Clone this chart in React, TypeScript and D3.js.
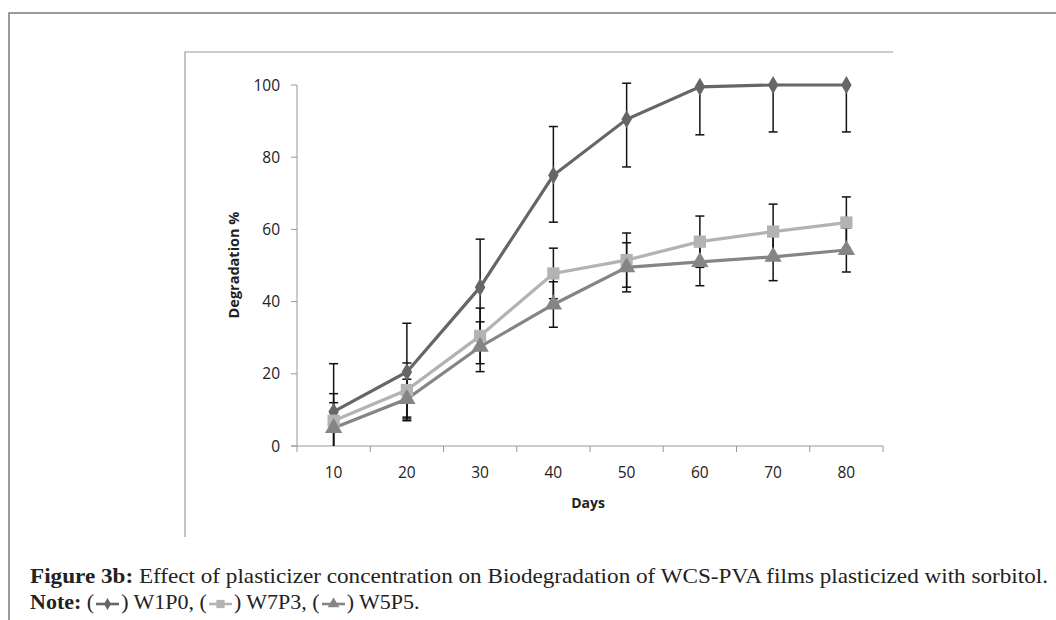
import React from 'react';
import * as d3 from 'd3';

const days = [10, 20, 30, 40, 50, 60, 70, 80];
const yTicks = [0, 20, 40, 60, 80, 100];

const w1p0 = [9.5, 20.5, 44, 75, 90.5, 99.5, 100, 100];
const w1p0Up = [13.3, 13.5, 13.3, 13.5, 10, 13.3, 13, 13];
const w1p0Down = [13.3, 13.5, 13.3, 13, 13.2, 13.3, 13, 13];

const w7p3 = [7, 15.5, 30.5, 47.8, 51.5, 56.6, 59.4, 61.9];
const w7p3Err = [7.5, 7.5, 7.7, 7, 7.5, 7.1, 7.6, 7.1];

const w5p5 = [5, 13, 27.5, 39.2, 49.5, 51, 52.4, 54.3];
const w5p5Err = [7, 5.5, 6.9, 6.3, 6.8, 6.6, 6.6, 6.1];

const series = [
    { name: 'W1P0', values: w1p0, up: w1p0Up, down: w1p0Down, color: '#666666', symbol: d3.symbolDiamond, size: 95 },
    { name: 'W7P3', values: w7p3, up: w7p3Err, down: w7p3Err, color: '#b3b3b3', symbol: d3.symbolSquare, size: 150 },
    { name: 'W5P5', values: w5p5, up: w5p5Err, down: w5p5Err, color: '#858585', symbol: d3.symbolTriangle, size: 130 },
];

const W = 1056;
const H = 620;
const plot = { left: 297, right: 883, top: 85, bottom: 446 };

const x = d3.scaleBand<number>().domain(days).range([plot.left, plot.right]);
const y = d3.scaleLinear().domain([0, 100]).range([plot.bottom, plot.top]);
const cx = (d: number) => (x(d) as number) + x.bandwidth() / 2;

const axisFont = '"Open Sans", "DejaVu Sans", sans-serif';
const serif = '"Liberation Serif", "DejaVu Serif", serif';

// small legend sample used inside the caption
const Glyph = ({ s }: { s: typeof series[number] }) => {
    const sym = d3.symbol().type(s.symbol).size(s.size * 0.45)();
    return (
        <svg width={25} height={12} style={{ verticalAlign: 'middle', margin: '0 1px' }}>
            <line x1={1} x2={24} y1={6} y2={6} stroke={s.color} strokeWidth={2.6} />
            <path d={sym as string} transform="translate(12.5,6)" fill={s.color} />
        </svg>
    );
};

const App = () => {
    const line = d3.line<number>().x((_, i) => cx(days[i])).y(d => y(d));

    return (
        <svg width={W} height={H} style={{ position: 'absolute', left: 0, top: 0, background: '#fff' }}>
            {/* outer frame */}
            <path d={`M9,620 V13 H1056`} fill="none" stroke="#7a7a7a" strokeWidth={1.5} />
            {/* inner chart frame */}
            <path d={`M185,537 V52 H893`} fill="none" stroke="#9a9a9a" strokeWidth={1.2} />

            {/* y axis */}
            <line x1={plot.left} x2={plot.left} y1={plot.top} y2={plot.bottom} stroke="#999" />
            {yTicks.map(t => (
                <g key={'yt' + t}>
                    <line x1={plot.left - 6} x2={plot.left} y1={y(t)} y2={y(t)} stroke="#999" />
                    <text x={plot.left - 17} y={y(t)} dy="0.36em" textAnchor="end"
                        style={{ font: `15.5px ${axisFont}`, fill: '#222' }}>{t}</text>
                </g>
            ))}

            {/* x axis */}
            <line x1={plot.left - 6} x2={plot.right} y1={plot.bottom} y2={plot.bottom} stroke="#999" />
            {days.map((d, i) => (
                <g key={'xt' + d}>
                    <line x1={x(d) as number} x2={x(d) as number} y1={plot.bottom} y2={plot.bottom + 6} stroke="#999" />
                    {i === days.length - 1 && (
                        <line x1={plot.right} x2={plot.right} y1={plot.bottom} y2={plot.bottom + 6} stroke="#999" />
                    )}
                    <text x={cx(d)} y={plot.bottom + 32} textAnchor="middle"
                        style={{ font: `15.5px ${axisFont}`, fill: '#222' }}>{d}</text>
                </g>
            ))}

            <text x={588} y={508} textAnchor="middle" style={{ font: `bold 14px ${axisFont}`, fill: '#222' }}>Days</text>
            <text transform="translate(239,265) rotate(-90)" textAnchor="middle"
                style={{ font: `bold 14.5px ${axisFont}`, fill: '#222' }}>Degradation %</text>

            {/* lines */}
            {series.map(s => (
                <path key={'l' + s.name} d={line(s.values) as string} fill="none" stroke={s.color} strokeWidth={3.2} />
            ))}

            {/* error bars */}
            {series.map(s => s.values.map((v, i) => {
                const hiRaw = v + s.up[i];
                const loRaw = v - s.down[i];
                const hi = Math.min(hiRaw, 100.6);
                const lo = Math.max(loRaw, 0);
                const px = cx(days[i]);
                return (
                    <g key={'e' + s.name + i} stroke="#111" strokeWidth={1.5}>
                        <line x1={px} x2={px} y1={y(hi)} y2={y(lo)} />
                        {hiRaw <= 100.6 && <line x1={px - 4.5} x2={px + 4.5} y1={y(hi)} y2={y(hi)} />}
                        {loRaw >= 0 && <line x1={px - 4.5} x2={px + 4.5} y1={y(lo)} y2={y(lo)} />}
                    </g>
                );
            }))}

            {/* markers */}
            {series.map(s => s.values.map((v, i) => (
                <path key={'m' + s.name + i} d={d3.symbol().type(s.symbol).size(s.size)() as string}
                    transform={`translate(${cx(days[i])},${y(v)})`} fill={s.color} />
            )))}

            {/* caption */}
            <text x={30} y={583} textLength={1018} lengthAdjust="spacingAndGlyphs"
                style={{ font: `22px ${serif}`, fill: '#222' }}>
                <tspan fontWeight="bold">Figure 3b:</tspan> Effect of plasticizer concentration on  Biodegradation of WCS-PVA films plasticized with sorbitol.
            </text>
            <foreignObject x={30} y={589} width={600} height={30}>
                <div style={{ font: `22px ${serif}`, color: '#222', whiteSpace: 'nowrap', lineHeight: '25px' }}>
                    <b>Note:</b> (<Glyph s={series[0]} />) W1P0, (<Glyph s={series[1]} />) W7P3, (<Glyph s={series[2]} />) W5P5.
                </div>
            </foreignObject>
        </svg>
    );
};

export default App;
